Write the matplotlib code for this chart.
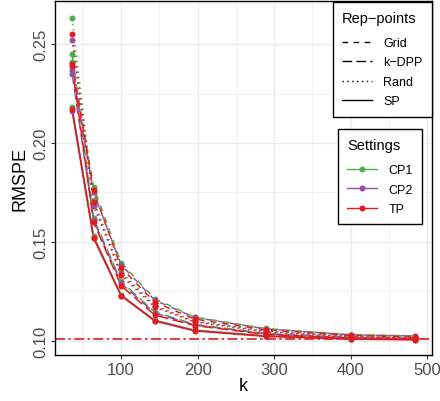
import matplotlib
matplotlib.use("Agg")
import matplotlib.pyplot as plt
from matplotlib.lines import Line2D
from matplotlib.ticker import MultipleLocator

plt.rcParams['font.family'] = ['Liberation Sans', 'DejaVu Sans']

k = [36, 64, 100, 144, 196, 289, 400, 484]

settings = ["CP1", "CP2", "TP"]
methods = ["Grid", "k\u2212DPP", "Rand", "SP"]

cp1_grid = [0.241, 0.178, 0.1395, 0.1212, 0.1120, 0.1062, 0.1031, 0.1025]
cp1_kdpp = [0.245, 0.162, 0.1300, 0.1145, 0.1083, 0.1037, 0.1016, 0.1011]
cp1_rand = [0.263, 0.171, 0.1350, 0.1180, 0.1100, 0.1050, 0.1023, 0.1017]
cp1_sp   = [0.218, 0.153, 0.1232, 0.1104, 0.1054, 0.1025, 0.1011, 0.1007]

cp2_grid = [0.237, 0.175, 0.1385, 0.1205, 0.1118, 0.1060, 0.1030, 0.1024]
cp2_kdpp = [0.235, 0.161, 0.1290, 0.1140, 0.1080, 0.1035, 0.1015, 0.1010]
cp2_rand = [0.252, 0.168, 0.1340, 0.1175, 0.1098, 0.1048, 0.1022, 0.1016]
cp2_sp   = [0.216, 0.152, 0.1228, 0.1102, 0.1052, 0.1024, 0.1010, 0.1006]

tp_grid = [0.240, 0.176, 0.1370, 0.1195, 0.1110, 0.1055, 0.1027, 0.1020]
tp_kdpp = [0.239, 0.160, 0.1278, 0.1130, 0.1077, 0.1032, 0.1013, 0.1009]
tp_rand = [0.255, 0.170, 0.1330, 0.1170, 0.1095, 0.1045, 0.1020, 0.1014]
tp_sp   = [0.217, 0.152, 0.1228, 0.1100, 0.1050, 0.1022, 0.1008, 0.1005]

reference_level = 0.101

data = {
    "CP1": [cp1_grid, cp1_kdpp, cp1_rand, cp1_sp],
    "CP2": [cp2_grid, cp2_kdpp, cp2_rand, cp2_sp],
    "TP": [tp_grid, tp_kdpp, tp_rand, tp_sp],
}

colors = {"CP1": "#4DAF4A", "CP2": "#984EA3", "TP": "#E41A1C"}
styles = [(0, (4, 4)), (0, (7, 3)), (0, (1, 2.5)), "solid"]

fig = plt.figure(figsize=(4.4, 4.02), dpi=100)
ax = fig.add_axes([55/440, 1-356/402, (432-55)/440, (356-2)/402])

for s in settings:
    for m_i, series in enumerate(data[s]):
        ax.plot(k, series, color=colors[s], linestyle=styles[m_i], lw=1.1, zorder=3)
for s in settings:
    for m_i, series in enumerate(data[s]):
        ax.plot(k, series, color=colors[s], linestyle="none", marker="o",
                markersize=4.3, markeredgewidth=0, zorder=4)

ax.axhline(reference_level, color="#E41A1C", linestyle=(0, (6, 2, 1.5, 2)), lw=1.2, zorder=2)

ax.set_xlim(13.6, 506.4)
ax.set_ylim(0.0928, 0.2718)
ax.xaxis.set_major_locator(MultipleLocator(100))
ax.xaxis.set_minor_locator(MultipleLocator(50))
ax.yaxis.set_major_locator(MultipleLocator(0.05))
ax.yaxis.set_minor_locator(MultipleLocator(0.025))
ax.set_yticks([0.10, 0.15, 0.20, 0.25])
ax.set_yticklabels(["0.10", "0.15", "0.20", "0.25"], rotation=90, va="center")
ax.grid(True, which="major", color="#EBEBEB", lw=1.0, zorder=0)
ax.grid(True, which="minor", color="#EBEBEB", lw=0.5, zorder=0)
ax.set_axisbelow(True)
ax.tick_params(which="major", direction="out", length=3, width=0.8, color="#333333",
               labelsize=12, labelcolor="#4D4D4D", pad=2)
ax.tick_params(which="minor", length=0)
for sp in ax.spines.values():
    sp.set_color("black")
    sp.set_linewidth(1.0)
ax.set_xlabel("k", fontsize=13, labelpad=0)
ax.set_ylabel("RMSPE", fontsize=13, labelpad=3)

common = dict(frameon=True, fancybox=False, edgecolor="black", framealpha=1,
              fontsize=9, title_fontsize=10.5, handlelength=2.4, handletextpad=0.9,
              labelspacing=0.6, borderpad=0.75, borderaxespad=0)

h1 = [Line2D([0], [0], color="black", linestyle=styles[i], lw=1.0) for i in range(4)]
leg1 = fig.legend(h1, methods, title="Rep\u2212points", loc="upper right",
                  bbox_to_anchor=(0.982, 0.993), **common)
leg1.get_frame().set_linewidth(1.0)
leg1._legend_box.align = "left"
leg1._legend_box.sep = 8.5

h2 = [Line2D([0], [0], color=colors[s], lw=1.0, marker="o", markersize=4.3,
             markeredgewidth=0) for s in settings]
leg2 = fig.legend(h2, settings, title="Settings", loc="upper right",
                  bbox_to_anchor=(0.959, 0.677), **common)
leg2.get_frame().set_linewidth(1.0)
leg2._legend_box.align = "left"
leg2._legend_box.sep = 8.5

fig.savefig("out.png", dpi=100)
